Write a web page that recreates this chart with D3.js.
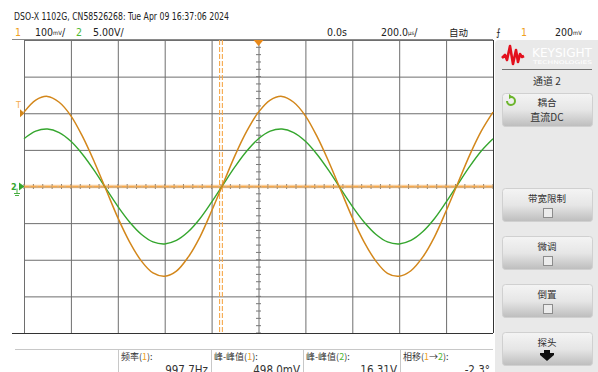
<!DOCTYPE html>
<html><head><meta charset="utf-8">
<script src="https://cdn.jsdelivr.net/npm/d3@7"></script>
<style>
html,body{margin:0;padding:0;background:#fff;}
svg{display:block;}
text{font-family:"Liberation Sans Narrow","DejaVu Sans Condensed","Liberation Sans",sans-serif;}
.cjk{font-family:"Noto Sans CJK SC","Noto Sans",sans-serif;}
</style></head>
<body>
<svg id="c" width="598" height="372"></svg>
<script>
// ---- data ----
const timeUs = [-1000,-950,-900,-850,-800,-750,-700,-650,-600,-550,-500,-450,-400,-350,-300,-250,-200,-150,-100,-50,0,50,100,150,200,250,300,350,400,450,500,550,600,650,700,750,800,850,900,950,1000];
const ch1mV = [203,236,246,230,193,136,67,-9,-85,-151,-203,-236,-245,-231,-193,-138,-67,9,85,151,203,236,246,230,193,136,67,-9,-85,-151,-203,-237,-245,-230,-193,-138,-67,9,85,151,203];
const ch2V = [6.52,7.55,7.84,7.36,6.17,4.37,2.16,-0.30,-2.71,-4.84,-6.51,-7.56,-7.84,-7.37,-6.19,-4.41,-2.14,0.30,2.71,4.85,6.52,7.55,7.84,7.36,6.17,4.37,2.16,-0.30,-2.71,-4.84,-6.51,-7.56,-7.84,-7.37,-6.19,-4.41,-2.14,0.30,2.71,4.85,6.52];
const xTicks = [-1000,-800,-600,-400,-200,0,200,400,600,800,1000];
const ch1Ticks = [-400,-300,-200,-100,0,100,200,300,400];
const headerText = "DSO-X 1102G, CN58526268: Tue Apr 09 16:37:06 2024";
const measLabels = ["频率", "峰-峰值", "峰-峰值", "相移"];
const measValues = ["997.7Hz", "498.0mV", "16.31V", "-2.3°"];
const panelButtons = ["带宽限制", "微调", "倒置"];

const svg = d3.select("#c");
const L = 24, R = 493, T = 40, B = 333;
const x = d3.scaleLinear().domain([-1000,1000]).range([L,R]);
const y1 = d3.scaleLinear().domain([-400,400]).range([B,T]);
const y2 = d3.scaleLinear().domain([-20,20]).range([B,T]);
const ORANGE = "#d3871b", ORANGE_L = "#f6a94c", GREEN = "#35a62e";

// ---- grid ----
const grid = svg.append("g");
grid.append("g").attr("transform",`translate(0,${B})`)
  .call(d3.axisBottom(x).tickValues(xTicks).tickSize(-(B-T)).tickFormat(""))
  .call(g=>{g.select(".domain").remove(); g.selectAll("line").attr("stroke","#6e6e6e");});
grid.append("g").attr("transform",`translate(${L},0)`)
  .call(d3.axisLeft(y1).tickValues(ch1Ticks).tickSize(-(R-L)).tickFormat(""))
  .call(g=>{g.select(".domain").remove(); g.selectAll("line").attr("stroke","#6e6e6e");});
// minor ticks on center axes
const minorX = d3.range(-1000,1001,40);
const minorY = d3.range(-400,401,20);
grid.append("g").selectAll("line").data(minorX).join("line")
  .attr("x1",d=>x(d)).attr("x2",d=>x(d)).attr("y1",y1(0)-2.5).attr("y2",y1(0)+2.5).attr("stroke","#777");
grid.append("g").selectAll("line").data(minorY).join("line")
  .attr("x1",x(0)-2.5).attr("x2",x(0)+2.5).attr("y1",d=>y1(d)).attr("y2",d=>y1(d)).attr("stroke","#777");
// borders
svg.append("line").attr("x1",12).attr("x2",R).attr("y1",T-0.5).attr("y2",T-0.5).attr("stroke","#8a8a8a");
svg.append("line").attr("x1",12).attr("x2",R).attr("y1",B+0.5).attr("y2",B+0.5).attr("stroke","#333").attr("stroke-width",1.2);
svg.append("line").attr("x1",R+0.5).attr("x2",R+0.5).attr("y1",T).attr("y2",B).attr("stroke","#333");

// ---- reference lines (orange dashed) ----
const gy = y1(0);
svg.append("line").attr("x1",L).attr("x2",R).attr("y1",gy).attr("y2",gy)
  .attr("stroke",ORANGE_L).attr("stroke-width",3.5).attr("opacity",0.55);
svg.append("line").attr("x1",L).attr("x2",R).attr("y1",gy).attr("y2",gy)
  .attr("stroke",ORANGE_L).attr("stroke-width",1).attr("stroke-dasharray","5,2");
const cx = x(-160);
[cx-1.4, cx+1.4].forEach(xx=>{
  svg.append("line").attr("x1",xx).attr("x2",xx).attr("y1",T).attr("y2",B)
    .attr("stroke",ORANGE_L).attr("stroke-width",1.1).attr("stroke-dasharray","5,2");
});

// ---- traces ----
const line2 = d3.line().x((d,i)=>x(timeUs[i])).y(d=>y2(d)).curve(d3.curveCatmullRom);
const line1 = d3.line().x((d,i)=>x(timeUs[i])).y(d=>y1(d)).curve(d3.curveCatmullRom);
svg.append("path").datum(ch2V).attr("d",line2).attr("fill","none").attr("stroke",GREEN).attr("stroke-width",1.4);
svg.append("path").datum(ch1mV).attr("d",line1).attr("fill","none").attr("stroke",ORANGE).attr("stroke-width",1.5);

// ---- markers ----
svg.append("path").attr("d",`M${x(0)-5},${T}L${x(0)+5},${T}L${x(0)},${T+6}Z`).attr("fill","#e8891a");
const ty = y1(200);
svg.append("text").attr("x",16).attr("y",ty-5).attr("font-size",9).attr("fill",ORANGE_L).text("T");
svg.append("path").attr("d",`M20,${ty-4}L24.5,${ty}L20,${ty+4}Z`).attr("fill",ORANGE);
svg.append("text").attr("x",11).attr("y",gy+3.5).attr("font-size",9).attr("fill",GREEN).attr("font-weight","bold").text("2");
svg.append("path").attr("d",`M19,${gy-4}L24.5,${gy}L19,${gy+4}Z`).attr("fill",GREEN);
svg.append("path").attr("d",`M17,${gy+2}V${gy+7}M14,${gy+7}H20M15,${gy+9}H19`).attr("stroke",GREEN).attr("fill","none").attr("stroke-width",0.9);

// ---- header ----
svg.append("text").attr("x",14).attr("y",20).attr("font-size",10.5).attr("fill","#222")
  .attr("textLength",215).attr("lengthAdjust","spacingAndGlyphs").text(headerText);
const h2 = svg.append("g").attr("font-size",10.5).attr("fill","#222");
h2.append("text").attr("x",15).attr("y",36).attr("fill","#f0a020").text("1");
const t1 = h2.append("text").attr("x",35).attr("y",36);
t1.append("tspan").text("100");
t1.append("tspan").attr("font-size",6).attr("dy",-1).text("mV");
t1.append("tspan").attr("dy",1).text("/");
h2.append("text").attr("x",76).attr("y",36).attr("fill","#4cb832").text("2");
h2.append("text").attr("x",93).attr("y",36).text("5.00V/");
h2.append("text").attr("x",327).attr("y",36).text("0.0s");
const t2 = h2.append("text").attr("x",381).attr("y",36);
t2.append("tspan").text("200.0");
t2.append("tspan").attr("font-size",6).attr("dy",-1).text("µs");
t2.append("tspan").attr("dy",1).text("/");
h2.append("text").attr("class","cjk").attr("x",449).attr("y",36).attr("font-size",9.5).text("自动");
h2.append("text").attr("x",496).attr("y",36).attr("font-size",10).text("⨍");
h2.append("text").attr("x",521).attr("y",36).attr("fill","#f0a020").text("1");
const t3 = h2.append("text").attr("x",555).attr("y",36);
t3.append("tspan").text("200");
t3.append("tspan").attr("font-size",6).attr("dy",-1).text("mV");

// ---- measurements ----
svg.append("line").attr("x1",15).attr("x2",493).attr("y1",349.5).attr("y2",349.5).attr("stroke","#c8c8c8");
const cells = [[118,211],[211,303],[303,400],[400,493]];
const lblColor = ["#f0a020","#f0a020","#4cb832",null];
cells.forEach((c,i)=>{
  svg.append("line").attr("x1",c[0]+0.5).attr("x2",c[0]+0.5).attr("y1",350).attr("y2",372).attr("stroke","#c8c8c8");
  const t = svg.append("text").attr("class","cjk").attr("x",c[0]+3).attr("y",360).attr("font-size",9).attr("fill","#333");
  t.append("tspan").text(measLabels[i]+"(");
  if(lblColor[i]){ t.append("tspan").attr("fill",lblColor[i]).text(i===2?"2":"1"); }
  else { t.append("tspan").attr("fill","#f0a020").text("1"); t.append("tspan").text("→"); t.append("tspan").attr("fill","#4cb832").text("2"); }
  t.append("tspan").text("):");
  svg.append("text").attr("x",c[1]-3).attr("y",374).attr("text-anchor","end").attr("font-size",11.5).attr("fill","#333")
    .attr("font-family","Liberation Sans, sans-serif").text(measValues[i]);
});

// ---- right panel ----
const defs = svg.append("defs");
const grad = defs.append("linearGradient").attr("id","btn").attr("x1",0).attr("x2",0).attr("y1",0).attr("y2",1);
grad.append("stop").attr("offset","0%").attr("stop-color","#f4f4f4");
grad.append("stop").attr("offset","50%").attr("stop-color","#e6e6e6");
grad.append("stop").attr("offset","100%").attr("stop-color","#bdbdbd");
svg.append("path").attr("d","M495,372V44Q495,40 499,40H598V372Z").attr("fill","#e9e9e9");
// logo
svg.append("path").attr("d","M502,58L505,55L507,60L510,46L513,64L516,50L518,62L520,54L522,57L524,56")
  .attr("fill","none").attr("stroke","#e3101d").attr("stroke-width",2.6).attr("stroke-linejoin","round");
svg.append("text").attr("x",532).attr("y",57).attr("font-size",12).attr("font-family","Liberation Sans, sans-serif")
  .attr("fill","#fff").attr("textLength",60).attr("lengthAdjust","spacingAndGlyphs").text("KEYSIGHT");
svg.append("text").attr("x",533).attr("y",64).attr("font-size",5).attr("font-family","Liberation Sans, sans-serif")
  .attr("fill","#fff").attr("textLength",59).attr("lengthAdjust","spacingAndGlyphs").text("TECHNOLOGIES");
svg.append("line").attr("x1",502).attr("x2",592).attr("y1",69.5).attr("y2",69.5).attr("stroke","#707070");
svg.append("text").attr("class","cjk").attr("x",547).attr("y",85).attr("text-anchor","middle").attr("font-size",10).attr("fill","#333").text("通道 2");

function button(y0,h){
  svg.append("rect").attr("x",502.5).attr("y",y0+0.5).attr("width",90).attr("height",h).attr("rx",3)
    .attr("fill","url(#btn)").attr("stroke","#d0d0d0");
}
button(93,33);
svg.append("path").attr("d","M507,101A4,4 0 1,0 511,97").attr("fill","none").attr("stroke","#6cb52d").attr("stroke-width",2);
svg.append("path").attr("d","M509,94L513,97L509,99Z").attr("fill","#6cb52d");
svg.append("text").attr("class","cjk").attr("x",547).attr("y",106).attr("text-anchor","middle").attr("font-size",9.5).attr("fill","#333").text("耦合");
svg.append("text").attr("class","cjk").attr("x",547).attr("y",121).attr("text-anchor","middle").attr("font-size",10).attr("fill","#333").text("直流DC");
const by = [188,236,284];
panelButtons.forEach((s,i)=>{
  button(by[i],33);
  svg.append("text").attr("class","cjk").attr("x",547).attr("y",by[i]+14).attr("text-anchor","middle").attr("font-size",9.5).attr("fill","#333").text(s);
  svg.append("rect").attr("x",543.5).attr("y",by[i]+20.5).attr("width",9).attr("height",9).attr("fill","#ececec").attr("stroke","#8c8c8c");
});
button(332,33);
svg.append("text").attr("class","cjk").attr("x",547).attr("y",346).attr("text-anchor","middle").attr("font-size",9.5).attr("fill","#333").text("探头");
svg.append("path").attr("d","M540,353H554V355L547,361L540,355Z").attr("fill","#111");
svg.append("rect").attr("x",544).attr("y",350).attr("width",6).attr("height",4).attr("fill","#111");
</script>
</body></html>
